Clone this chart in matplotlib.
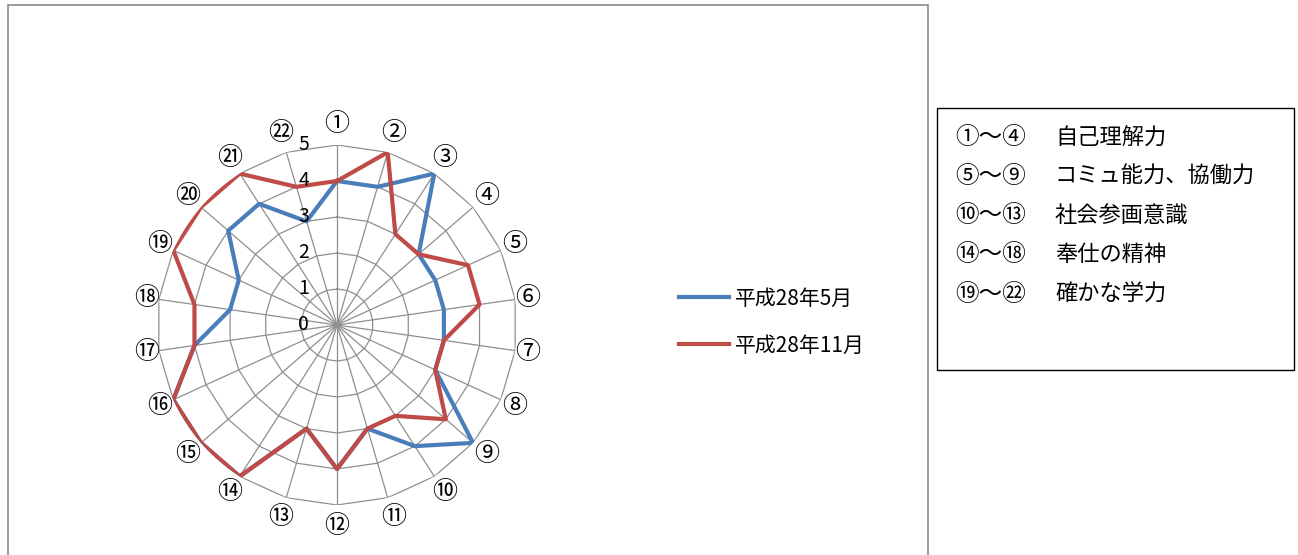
import numpy as np
import matplotlib
matplotlib.use('Agg')
import matplotlib.pyplot as plt
from matplotlib.patches import Rectangle

plt.rcParams['font.family'] = ['Noto Sans CJK JP', 'DejaVu Sans']

# data
axis_labels = ['①', '②', '③', '④', '⑤', '⑥', '⑦', '⑧', '⑨', '⑩', '⑪',
               '⑫', '⑬', '⑭', '⑮', '⑯', '⑰', '⑱', '⑲', '⑳', '㉑', '㉒']
may_2016 = [4, 4, 5, 3, 3, 3, 3, 3, 5, 4, 3, 4, 3, 5, 5, 5, 4, 3, 3, 4, 4, 3]
nov_2016 = [4, 5, 3, 3, 4, 4, 3, 3, 4, 3, 3, 4, 3, 5, 5, 5, 4, 4, 5, 5, 5, 4]
series_names = ['平成28年5月', '平成28年11月']
levels = [0, 1, 2, 3, 4, 5]
groups = ['①～④', '⑤～⑨', '⑩～⑬', '⑭～⑱', '⑲～㉒']
group_names = ['自己理解力', 'コミュ能力、協働力', '社会参画意識', '奉仕の精神', '確かな学力']

W, H = 1298, 555
fig = plt.figure(figsize=(W / 100, H / 100), dpi=100)

# outer chart-area border (bottom edge is cut off)
fig.add_artist(Rectangle((8 / W, -0.05), 920 / W, 1.05 - 5 / H,
                         transform=fig.transFigure, fill=False,
                         ec='#8a8a8a', lw=1.2))

ax = fig.add_axes([157 / W, 50 / H, 360 / W, 360 / H], projection='polar')
ax.set_theta_zero_location('N')
ax.set_theta_direction(-1)
ax.grid(False)
ax.spines['polar'].set_visible(False)
ax.set_xticks([])
ax.set_yticks([])
ax.set_ylim(0, 5)

n = len(axis_labels)
theta = np.arange(n) * 2 * np.pi / n
tc = np.append(theta, theta[0])

grid_col = '#8f8f8f'
for lv in levels[1:]:
    ax.plot(tc, [lv] * (n + 1), color=grid_col, lw=0.9)
for t in theta:
    ax.plot([t, t], [0, levels[-1]], color=grid_col, lw=0.9)

l1, = ax.plot(tc, may_2016 + may_2016[:1], color='#4a7ebb', lw=3)
l2, = ax.plot(tc, nov_2016 + nov_2016[:1], color='#be4b48', lw=3)

for t, lab in zip(theta, axis_labels):
    r = 5.32 + 0.25 * abs(np.cos(t))
    ax.text(t, r, lab, ha='center', va='center', fontsize=18)

for lv in levels:
    ax.annotate(str(lv), xy=(0, lv), xytext=(-24, 0), textcoords='offset points',
                ha='center', va='center', fontsize=14)

fig.legend([l1, l2], series_names, loc='center left',
           bbox_to_anchor=(660 / W, 1 - 322 / H), frameon=False, fontsize=15,
           handlelength=2.4, labelspacing=1.2, handletextpad=0.3)

# right-hand key box
fig.add_artist(Rectangle((937 / W, 1 - 370 / H), (1294 - 937) / W, (370 - 108) / H,
                         transform=fig.transFigure, fill=False, ec='black', lw=1))
for i, (g, name) in enumerate(zip(groups, group_names)):
    y = 1 - (137 + 39.3 * i) / H
    fig.text(955 / W, y, g, va='center', fontsize=17)
    fig.text(1055 / W, y, name, va='center', fontsize=16)

fig.savefig('out.png', dpi=100)
